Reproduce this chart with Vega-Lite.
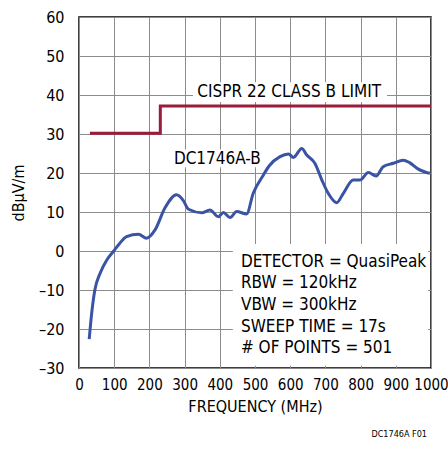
{
  "$schema": "https://vega.github.io/schema/vega-lite/v6.json",
  "width": 352,
  "height": 351,
  "autosize": {"type": "none"},
  "padding": {"left": 79, "top": 17, "right": 17, "bottom": 85},
  "config": {
    "font": "DejaVu Sans Condensed",
    "view": {"stroke": "black", "strokeWidth": 1.5},
    "axis": {"labelFont": "DejaVu Sans Condensed", "titleFont": "DejaVu Sans Condensed"}
  },
  "title": {"text": "DC1746A F01", "orient": "bottom", "anchor": "end", "frame": "group", "fontSize": 9, "fontWeight": "normal", "color": "black", "offset": 16, "dx": -4},
  "datasets": {
    "curve": [
      {"f": 29, "v": -22.6}, {"f": 36, "v": -16}, {"f": 45, "v": -10}, {"f": 60, "v": -5.7}, {"f": 79, "v": -2.3},
      {"f": 97, "v": -0.2}, {"f": 116, "v": 2}, {"f": 135, "v": 3.7}, {"f": 169, "v": 4.3}, {"f": 192, "v": 3.3},
      {"f": 216, "v": 5.4}, {"f": 244, "v": 11}, {"f": 277, "v": 14.4}, {"f": 296, "v": 13}, {"f": 311, "v": 10.7},
      {"f": 349, "v": 9.8}, {"f": 372, "v": 10.5}, {"f": 396, "v": 8.8}, {"f": 410, "v": 9.9}, {"f": 429, "v": 8.6},
      {"f": 448, "v": 10.1}, {"f": 476, "v": 9.5}, {"f": 495, "v": 14.8}, {"f": 524, "v": 19.5}, {"f": 540, "v": 21.8},
      {"f": 571, "v": 24.2}, {"f": 595, "v": 24.9}, {"f": 609, "v": 24}, {"f": 633, "v": 26.3}, {"f": 647, "v": 24.6},
      {"f": 670, "v": 22.5}, {"f": 690, "v": 18.2}, {"f": 708, "v": 14.8}, {"f": 732, "v": 12.4}, {"f": 751, "v": 14.8},
      {"f": 779, "v": 18.2}, {"f": 798, "v": 18.2}, {"f": 822, "v": 20.1}, {"f": 844, "v": 19.2}, {"f": 864, "v": 21.6},
      {"f": 893, "v": 22.5}, {"f": 921, "v": 23.3}, {"f": 940, "v": 22.6}, {"f": 964, "v": 21}, {"f": 997, "v": 19.9}
    ],
    "limit": [
      {"i": 0, "f": 31, "v": 30.2}, {"i": 1, "f": 231, "v": 30.2}, {"i": 2, "f": 231, "v": 37.2}, {"i": 3, "f": 1000, "v": 37.2}
    ],
    "boxes": [
      {"x1": 437, "x2": 992, "y1": -29.4, "y2": 1.8},
      {"x1": 324, "x2": 875, "y1": 38.2, "y2": 43.3},
      {"x1": 264, "x2": 523, "y1": 21.5, "y2": 26}
    ],
    "labels": [
      {"f": 597, "v": 40.8, "t": "CISPR 22 CLASS B LIMIT"},
      {"f": 393, "v": 23.5, "t": "DC1746A-B"}
    ],
    "notes": [
      {"f": 460, "v": -2.8, "t": "DETECTOR = QuasiPeak"},
      {"f": 460, "v": -8.3, "t": "RBW = 120kHz"},
      {"f": 460, "v": -13.8, "t": "VBW = 300kHz"},
      {"f": 460, "v": -19.4, "t": "SWEEP TIME = 17s"},
      {"f": 460, "v": -24.9, "t": "# OF POINTS = 501"}
    ]
  },
  "encoding": {
    "x": {"type": "quantitative", "scale": {"domain": [0, 1000], "nice": false, "zero": false},
      "axis": {"values": [0,100,200,300,400,500,600,700,800,900,1000], "format": "d", "title": "FREQUENCY (MHz)", "grid": true, "gridColor": "#8c8c8c", "gridWidth": 1, "ticks": false, "domain": false, "labelFontSize": 15, "labelColor": "black", "labelPadding": 9, "labelFlush": false, "labelOverlap": false, "titleFontSize": 16, "titleFontWeight": "normal", "titleColor": "black", "titlePadding": 6}},
    "y": {"type": "quantitative", "scale": {"domain": [-30, 60], "nice": false, "zero": false},
      "axis": {"values": [-30,-20,-10,0,10,20,30,40,50,60], "title": "dBµV/m", "grid": true, "gridColor": "#8c8c8c", "gridWidth": 1, "ticks": false, "domain": false, "labelFontSize": 16, "labelColor": "black", "labelPadding": 15, "labelFlush": false, "labelOverlap": false, "labelExpr": "datum.value < 0 ? '–' + abs(datum.value) : datum.label", "titleFontSize": 16, "titleFontWeight": "normal", "titleColor": "black", "titlePadding": 12}}
  },
  "layer": [
    {"data": {"name": "boxes"}, "mark": {"type": "rect", "fill": "white", "stroke": null},
      "encoding": {"x": {"field": "x1"}, "x2": {"field": "x2"}, "y": {"field": "y1"}, "y2": {"field": "y2"}}},
    {"data": {"name": "limit"}, "mark": {"type": "line", "color": "#9b1b3b", "strokeWidth": 3, "strokeJoin": "miter"},
      "encoding": {"x": {"field": "f"}, "y": {"field": "v"}, "order": {"field": "i"}}},
    {"data": {"name": "curve"}, "mark": {"type": "line", "color": "#3a53a4", "strokeWidth": 3, "interpolate": "monotone"},
      "encoding": {"x": {"field": "f"}, "y": {"field": "v"}}},
    {"data": {"name": "labels"}, "mark": {"type": "text", "fontSize": 17, "color": "black", "align": "center", "baseline": "middle"},
      "encoding": {"x": {"field": "f"}, "y": {"field": "v"}, "text": {"field": "t"}}},
    {"data": {"name": "notes"}, "mark": {"type": "text", "fontSize": 17, "color": "black", "align": "left", "baseline": "middle"},
      "encoding": {"x": {"field": "f"}, "y": {"field": "v"}, "text": {"field": "t"}}}
  ]
}
